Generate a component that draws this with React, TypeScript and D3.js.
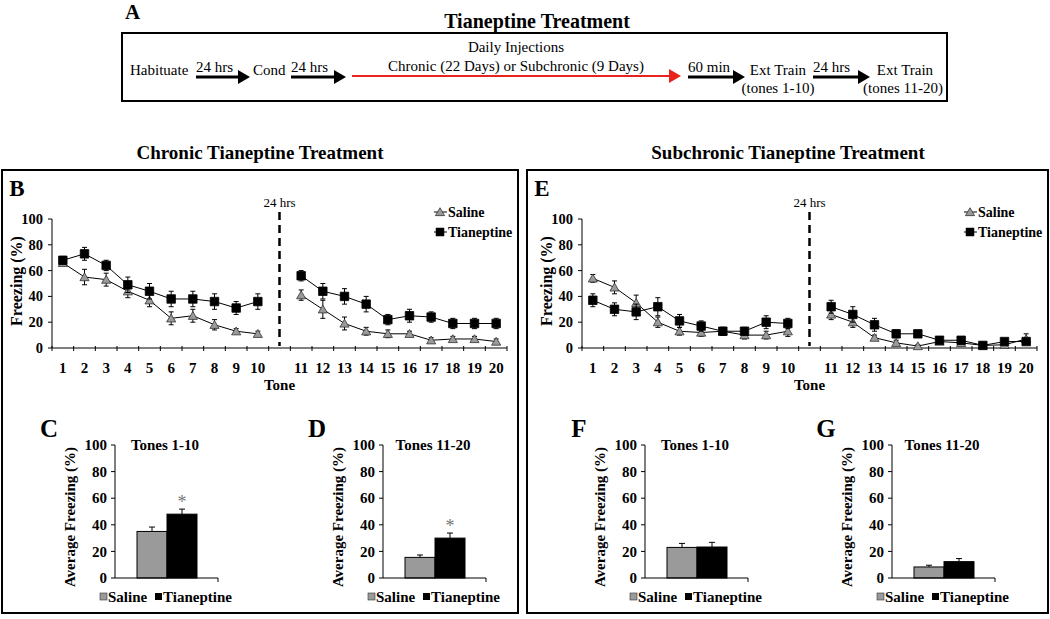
import React from 'react';
import * as d3 from 'd3';

// ---------- data ----------
const tones = ['1', '2', '3', '4', '5', '6', '7', '8', '9', '10', '11', '12', '13', '14', '15', '16', '17', '18', '19', '20'];
const gapSlot = 'gap';
const slots = [...tones.slice(0, 10), gapSlot, ...tones.slice(10)];

const chronicSaline = [66, 55, 53, 44, 37, 23, 25, 18, 13, 11, 41, 30, 19, 13, 11, 11, 6, 7, 7, 5];
const chronicSalineErr = [2, 6, 5, 5, 5, 5, 5, 4, 2, 2, 4, 7, 5, 3, 3, 2, 2, 2, 2, 2];
const chronicTian = [68, 73, 64, 49, 44, 38, 38, 36, 31, 36, 56, 44, 40, 34, 22, 25, 24, 19, 19, 19];
const chronicTianErr = [3, 5, 4, 6, 6, 6, 6, 6, 5, 6, 4, 6, 6, 6, 4, 5, 4, 4, 4, 4];

const subSaline = [54, 47, 35, 20, 13, 12, 13, 10, 10, 13, 26, 20, 8, 4, 1.5, 5, 4, 2, 2.5, 7];
const subSalineErr = [3, 5, 6, 4, 3, 3, 3, 3, 3, 4, 4, 4, 2, 2, 1, 2, 2, 1, 2, 4];
const subTian = [37, 30, 28, 32, 21, 17, 13, 13, 20, 19, 32, 26, 18, 11, 11, 6, 6, 2, 5, 5];
const subTianErr = [5, 5, 6, 7, 5, 4, 3, 3, 5, 4, 5, 6, 5, 3, 2, 2, 2, 1, 2, 2];

const groups = ['Saline', 'Tianeptine'];
const chronicEarly = [35, 48];
const chronicEarlyErr = [3.3, 3.8];
const chronicLate = [15.5, 30];
const chronicLateErr = [1.8, 3.8];
const subEarly = [23, 23.3];
const subEarlyErr = [3, 3.5];
const subLate = [8.3, 12.3];
const subLateErr = [1.3, 2.3];
const yTicks = [0, 20, 40, 60, 80, 100];

const FONT = "'Liberation Serif','Times New Roman',Times,serif";
const GRAY = '#9a9a9a';

// ---------- line panel ----------
function LinePanel({ x0, x1, saline, salineErr, tian, tianErr }: any) {
  const y = d3.scaleLinear().domain([0, 100]).range([348, 219]);
  const x = d3.scaleBand().domain(slots).range([x0, x1]).padding(0);
  const bw = x.bandwidth();
  const cx = (t: string) => (x(t) as number) + bw / 2;
  const segs = [tones.slice(0, 10), tones.slice(10)];
  const line = d3.line<[number, number]>();
  const tri = d3.symbol(d3.symbolTriangle, 36)() as string;
  const sq = d3.symbol(d3.symbolSquare, 72)() as string;
  const y0 = y(0);
  const gx = cx(gapSlot);
  const legX = x1 - 67;

  const series = (vals: number[], errs: number[], kind: 'tri' | 'sq') => (
    <g>
      {segs.map((seg, si) => (
        <path key={si} d={line(seg.map((t) => [cx(t), y(vals[tones.indexOf(t)])]) as any) as string}
          fill="none" stroke="#000" strokeWidth={1} />
      ))}
      {tones.map((t, i) => {
        const px = cx(t);
        const top = y(vals[i] + errs[i]);
        const bot = y(Math.max(0, vals[i] - errs[i]));
        return (
          <g key={t}>
            <line x1={px} x2={px} y1={top} y2={bot} stroke="#000" strokeWidth={1} />
            <line x1={px - 2.5} x2={px + 2.5} y1={top} y2={top} stroke="#000" strokeWidth={1} />
            <line x1={px - 2.5} x2={px + 2.5} y1={bot} y2={bot} stroke="#000" strokeWidth={1} />
          </g>
        );
      })}
      {tones.map((t, i) => (
        <path key={'m' + t} d={kind === 'tri' ? tri : sq}
          transform={`translate(${cx(t)},${y(vals[i]) + (kind === 'tri' ? 1 : 0)})`}
          fill={kind === 'tri' ? GRAY : '#000'} stroke={kind === 'tri' ? '#333' : '#000'} strokeWidth={0.8} />
      ))}
    </g>
  );

  return (
    <g fontFamily={FONT}>
      {/* y axis */}
      <line x1={x0} x2={x0} y1={y(100)} y2={y0} stroke="#000" strokeWidth={1} />
      {yTicks.map((v) => (
        <g key={v}>
          <line x1={x0 - 4} x2={x0} y1={y(v)} y2={y(v)} stroke="#000" strokeWidth={1} />
          <text x={x0 - 9} y={y(v)} dy="0.35em" textAnchor="end" fontSize={14.5} fontWeight="bold">{v}</text>
        </g>
      ))}
      <text transform={`translate(${x0 - 36},${281}) rotate(-90)`} textAnchor="middle" dy="0.35em"
        fontSize={16} fontWeight="bold">Freezing (%)</text>
      {/* x axis */}
      <line x1={x0} x2={x1} y1={y0} y2={y0} stroke="#000" strokeWidth={1} />
      {d3.range(slots.length + 1).map((i) => (
        <line key={i} x1={x0 + i * bw} x2={x0 + i * bw} y1={y0 - 2} y2={y0 + 3} stroke="#000" strokeWidth={1} />
      ))}
      {tones.map((t) => (
        <text key={t} x={cx(t)} y={373} textAnchor="middle" fontSize={15} fontWeight="bold">{t}</text>
      ))}
      <text x={gx} y={390} textAnchor="middle" fontSize={15} fontWeight="bold">Tone</text>
      {/* 24 hrs divider */}
      <line x1={gx} x2={gx} y1={212} y2={y0 - 2} stroke="#000" strokeWidth={2.5} strokeDasharray="8,5" />
      <text x={gx} y={207} textAnchor="middle" fontSize={13}>24 hrs</text>
      {series(saline, salineErr, 'tri')}
      {series(tian, tianErr, 'sq')}
      {/* legend */}
      <line x1={legX - 6} x2={legX + 7} y1={212} y2={212} stroke="#000" strokeWidth={1} />
      <path d={tri} transform={`translate(${legX},${213})`} fill={GRAY} stroke="#333" strokeWidth={0.8} />
      <text x={legX + 8} y={212} dy="0.35em" fontSize={14} fontWeight="bold">Saline</text>
      <line x1={legX - 6} x2={legX + 7} y1={232} y2={232} stroke="#000" strokeWidth={1} />
      <path d={sq} transform={`translate(${legX},${232})`} fill="#000" />
      <text x={legX + 8} y={232} dy="0.35em" fontSize={14} fontWeight="bold">Tianeptine</text>
    </g>
  );
}

// ---------- bar panel ----------
function BarPanel({ ax, vals, errs, stars, title, letter }: any) {
  const y = d3.scaleLinear().domain([0, 100]).range([578, 445]);
  const x = d3.scaleBand().domain(groups).range([ax + 22, ax + 82]).padding(0);
  const y0 = y(0);
  const axEnd = ax + 103;
  return (
    <g fontFamily={FONT}>
      <text x={ax - 66} y={437} textAnchor="middle" fontSize={25} fontWeight="bold">{letter}</text>
      <text x={ax + 50} y={y(100)} dy="0.35em" textAnchor="middle" fontSize={15} fontWeight="bold">{title}</text>
      <line x1={ax} x2={ax} y1={y(100)} y2={y0} stroke="#000" strokeWidth={1} />
      {yTicks.map((v) => (
        <g key={v}>
          <line x1={ax - 4} x2={ax} y1={y(v)} y2={y(v)} stroke="#000" strokeWidth={1} />
          <text x={ax - 8} y={y(v)} dy="0.35em" textAnchor="end" fontSize={15} fontWeight="bold">{v}</text>
        </g>
      ))}
      <text transform={`translate(${ax - 45},${517}) rotate(-90)`} textAnchor="middle" dy="0.35em"
        fontSize={15} fontWeight="bold">Average Freezing (%)</text>
      {groups.map((g, i) => {
        const bx = x(g) as number;
        const top = y(vals[i]);
        const et = y(vals[i] + errs[i]);
        const mid = bx + x.bandwidth() / 2;
        return (
          <g key={g}>
            <rect x={bx} y={top} width={x.bandwidth()} height={y0 - top} fill={i === 0 ? GRAY : '#000'} stroke="#000" strokeWidth={1} />
            <line x1={mid} x2={mid} y1={top} y2={et} stroke="#000" strokeWidth={1} />
            <line x1={mid - 3} x2={mid + 3} y1={et} y2={et} stroke="#000" strokeWidth={1} />
            {stars[i] ? <text x={mid} y={et - 1} textAnchor="middle" fontSize={18} fill="#777">*</text> : null}
          </g>
        );
      })}
      <line x1={ax} x2={axEnd} y1={y0} y2={y0} stroke="#000" strokeWidth={1} />
      <line x1={axEnd} x2={axEnd} y1={y0} y2={y0 + 4} stroke="#000" strokeWidth={1} />
      {/* legend */}
      <rect x={ax - 15} y={593} width={7} height={7} fill={GRAY} stroke="#333" strokeWidth={0.6} />
      <text x={ax - 7} y={597} dy="0.35em" fontSize={15} fontWeight="bold">Saline</text>
      <rect x={ax + 40} y={593} width={7} height={7} fill="#000" />
      <text x={ax + 48} y={597} dy="0.35em" fontSize={15} fontWeight="bold">Tianeptine</text>
    </g>
  );
}

// ---------- panel A ----------
function Arrow({ x1, x2, y, color = '#000', w = 3 }: any) {
  return (
    <g>
      <line x1={x1} x2={x2 - 10} y1={y} y2={y} stroke={color} strokeWidth={w} />
      <path d={`M${x2 - 12},${y - 7}L${x2},${y}L${x2 - 12},${y + 7}Z`} fill={color} />
    </g>
  );
}

function PanelA() {
  const ay = 77;
  return (
    <g fontFamily={FONT}>
      <text x={125} y={19} fontSize={21} fontWeight="bold">A</text>
      <text x={537} y={28} textAnchor="middle" fontSize={20} fontWeight="bold">Tianeptine Treatment</text>
      <rect x={122} y={33} width={825} height={68} fill="none" stroke="#000" strokeWidth={2} />
      <text x={516} y={52} textAnchor="middle" fontSize={15}>Daily Injections</text>
      <text x={130} y={75} fontSize={15}>Habituate</text>
      <text x={196} y={72} fontSize={15}>24 hrs</text>
      <Arrow x1={196} x2={250} y={ay} />
      <text x={253} y={75} fontSize={15}>Cond</text>
      <text x={291} y={72} fontSize={15}>24 hrs</text>
      <Arrow x1={291} x2={346} y={ay} />
      <text x={516} y={71} textAnchor="middle" fontSize={15}>Chronic (22 Days) or Subchronic (9 Days)</text>
      <Arrow x1={352} x2={681} y={ay - 1} color="#e8231e" w={2} />
      <text x={688} y={72} fontSize={15}>60 min</text>
      <Arrow x1={688} x2={745} y={ay} />
      <text x={778} y={75} textAnchor="middle" fontSize={15}>Ext Train</text>
      <text x={778} y={93} textAnchor="middle" fontSize={15}>(tones 1-10)</text>
      <text x={813} y={72} fontSize={15}>24 hrs</text>
      <Arrow x1={813} x2={870} y={ay} />
      <text x={905} y={75} textAnchor="middle" fontSize={15}>Ext Train</text>
      <text x={903} y={93} textAnchor="middle" fontSize={15}>(tones 11-20)</text>
    </g>
  );
}

export default function App() {
  return (
    <svg width={1050} height={619} style={{ position: 'absolute', left: 0, top: 0, background: '#fff' }}>
      <rect width={1050} height={619} fill="#fff" />
      <PanelA />
      {/* Chronic */}
      <text x={260} y={159} textAnchor="middle" fontFamily={FONT} fontSize={19} fontWeight="bold">Chronic Tianeptine Treatment</text>
      <rect x={2} y={170} width={516} height={443} fill="none" stroke="#000" strokeWidth={2} />
      <text x={17} y={196} textAnchor="middle" fontFamily={FONT} fontSize={23} fontWeight="bold">B</text>
      <LinePanel x0={52} x1={507} saline={chronicSaline} salineErr={chronicSalineErr} tian={chronicTian} tianErr={chronicTianErr} />
      <BarPanel ax={115} vals={chronicEarly} errs={chronicEarlyErr} stars={[false, true]} title="Tones 1-10" letter="C" />
      <BarPanel ax={383} vals={chronicLate} errs={chronicLateErr} stars={[false, true]} title="Tones 11-20" letter="D" />
      {/* Subchronic */}
      <text x={788} y={159} textAnchor="middle" fontFamily={FONT} fontSize={19} fontWeight="bold">Subchronic Tianeptine Treatment</text>
      <rect x={527} y={170} width={521} height={443} fill="none" stroke="#000" strokeWidth={2} />
      <text x={542} y={196} textAnchor="middle" fontFamily={FONT} fontSize={23} fontWeight="bold">E</text>
      <LinePanel x0={582} x1={1037} saline={subSaline} salineErr={subSalineErr} tian={subTian} tianErr={subTianErr} />
      <BarPanel ax={645} vals={subEarly} errs={subEarlyErr} stars={[false, false]} title="Tones 1-10" letter="F" />
      <BarPanel ax={892} vals={subLate} errs={subLateErr} stars={[false, false]} title="Tones 11-20" letter="G" />
    </svg>
  );
}
